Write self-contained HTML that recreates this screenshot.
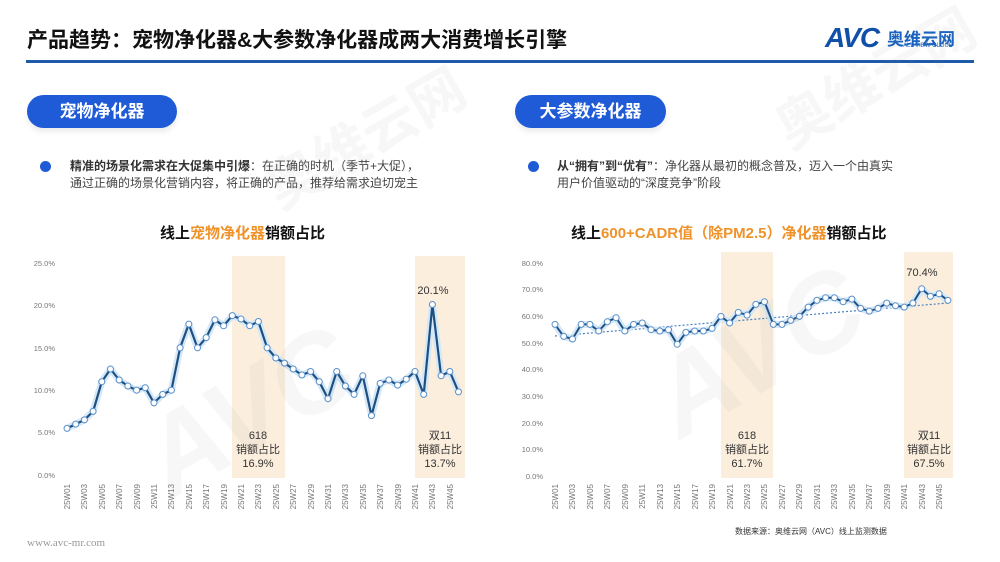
<!DOCTYPE html>
<html><head><meta charset="utf-8"><style>
body{margin:0;width:1000px;height:562px;background:#fff;overflow:hidden;font-family:"Liberation Sans","Noto Sans CJK SC",sans-serif;position:relative}
.abs{position:absolute}
.pill{position:absolute;height:33px;border-radius:17px;background:#1f5bd6;color:#fff;font-size:17px;font-weight:bold;line-height:33px;text-align:center;box-shadow:0 4px 6px rgba(0,0,0,0.08)}
.bul{position:absolute;font-size:12px;color:#444;line-height:17px}
.dot{position:absolute;width:11px;height:11px;border-radius:50%;background:#1f5bd6}
</style></head><body>
<div class="abs" style="left:27px;top:24px;font-size:21px;font-weight:bold;color:#111">产品趋势：宠物净化器&amp;大参数净化器成两大消费增长引擎</div>
<div class="abs" style="left:26px;top:60px;width:948px;height:3px;background:#1d5ba8"></div>
<div class="abs" style="left:825px;top:22px;font-size:28px;font-weight:900;font-style:italic;color:#1050a8;letter-spacing:-1px">AVC</div>
<div class="abs" style="left:887px;top:25px;font-size:17px;font-weight:bold;color:#1a62c0">奥维云网</div>
<div class="abs" style="left:903px;top:43px;font-size:6px;color:#1a62c0">ALL VIEW CLOUD</div>

<div class="pill" style="left:27px;top:95px;width:150px">宠物净化器</div>
<div class="pill" style="left:515px;top:95px;width:151px">大参数净化器</div>
<div class="dot" style="left:40px;top:161px"></div>
<div class="bul" style="left:70px;top:158px"><b style="color:#333">精准的场景化需求在大促集中引爆</b>：在正确的时机（季节+大促），<br>通过正确的场景化营销内容，将正确的产品，推荐给需求迫切宠主</div>
<div class="dot" style="left:528px;top:161px"></div>
<div class="bul" style="left:557px;top:158px"><b style="color:#333">从“拥有”到“优有”</b>：净化器从最初的概念普及，迈入一个由真实<br>用户价值驱动的“深度竞争”阶段</div>
<div class="abs" style="left:160px;top:222px;font-size:15px;font-weight:bold;color:#111">线上<span style="color:#f0922a">宠物净化器</span>销额占比</div>
<div class="abs" style="left:571px;top:222px;font-size:15px;font-weight:bold;color:#111">线上<span style="color:#f0922a">600+CADR值（除PM2.5）净化器</span>销额占比</div>

<svg class="abs" style="left:0;top:0" width="1000" height="562">
<defs><marker id="m" markerWidth="8" markerHeight="8" refX="4" refY="4" markerUnits="userSpaceOnUse"><circle cx="4" cy="4" r="3" fill="#fff" stroke="#5a8fc8" stroke-width="1"/></marker></defs>
<g fill="#fbeedd"><rect x="232" y="256" width="53" height="222"/><rect x="415" y="256" width="50" height="222"/><rect x="721" y="252" width="52" height="226"/><rect x="904" y="252" width="49" height="226"/></g>
<g font-size="7.5" fill="#777" text-anchor="end">
<text x="55" y="266">25.0%</text><text x="55" y="308">20.0%</text><text x="55" y="351">15.0%</text><text x="55" y="393">10.0%</text><text x="55" y="435">5.0%</text><text x="55" y="478">0.0%</text>
<text x="543" y="266">80.0%</text><text x="543" y="292">70.0%</text><text x="543" y="319">60.0%</text><text x="543" y="346">50.0%</text><text x="543" y="372">40.0%</text><text x="543" y="399">30.0%</text><text x="543" y="426">20.0%</text><text x="543" y="452">10.0%</text><text x="543" y="479">0.0%</text>
</g>
<g font-size="8" fill="#777" text-anchor="end">
<g transform="translate(70,484) rotate(-90)"><text>25W01</text></g><g transform="translate(87,484) rotate(-90)"><text>25W03</text></g><g transform="translate(105,484) rotate(-90)"><text>25W05</text></g><g transform="translate(122,484) rotate(-90)"><text>25W07</text></g><g transform="translate(140,484) rotate(-90)"><text>25W09</text></g><g transform="translate(157,484) rotate(-90)"><text>25W11</text></g><g transform="translate(174,484) rotate(-90)"><text>25W13</text></g><g transform="translate(192,484) rotate(-90)"><text>25W15</text></g><g transform="translate(209,484) rotate(-90)"><text>25W17</text></g><g transform="translate(227,484) rotate(-90)"><text>25W19</text></g><g transform="translate(244,484) rotate(-90)"><text>25W21</text></g><g transform="translate(261,484) rotate(-90)"><text>25W23</text></g><g transform="translate(279,484) rotate(-90)"><text>25W25</text></g><g transform="translate(296,484) rotate(-90)"><text>25W27</text></g><g transform="translate(314,484) rotate(-90)"><text>25W29</text></g><g transform="translate(331,484) rotate(-90)"><text>25W31</text></g><g transform="translate(348,484) rotate(-90)"><text>25W33</text></g><g transform="translate(366,484) rotate(-90)"><text>25W35</text></g><g transform="translate(383,484) rotate(-90)"><text>25W37</text></g><g transform="translate(401,484) rotate(-90)"><text>25W39</text></g><g transform="translate(418,484) rotate(-90)"><text>25W41</text></g><g transform="translate(435,484) rotate(-90)"><text>25W43</text></g><g transform="translate(453,484) rotate(-90)"><text>25W45</text></g>
<g transform="translate(558,484) rotate(-90)"><text>25W01</text></g><g transform="translate(575,484) rotate(-90)"><text>25W03</text></g><g transform="translate(593,484) rotate(-90)"><text>25W05</text></g><g transform="translate(610,484) rotate(-90)"><text>25W07</text></g><g transform="translate(628,484) rotate(-90)"><text>25W09</text></g><g transform="translate(645,484) rotate(-90)"><text>25W11</text></g><g transform="translate(663,484) rotate(-90)"><text>25W13</text></g><g transform="translate(680,484) rotate(-90)"><text>25W15</text></g><g transform="translate(698,484) rotate(-90)"><text>25W17</text></g><g transform="translate(715,484) rotate(-90)"><text>25W19</text></g><g transform="translate(733,484) rotate(-90)"><text>25W21</text></g><g transform="translate(750,484) rotate(-90)"><text>25W23</text></g><g transform="translate(767,484) rotate(-90)"><text>25W25</text></g><g transform="translate(785,484) rotate(-90)"><text>25W27</text></g><g transform="translate(802,484) rotate(-90)"><text>25W29</text></g><g transform="translate(820,484) rotate(-90)"><text>25W31</text></g><g transform="translate(837,484) rotate(-90)"><text>25W33</text></g><g transform="translate(855,484) rotate(-90)"><text>25W35</text></g><g transform="translate(872,484) rotate(-90)"><text>25W37</text></g><g transform="translate(890,484) rotate(-90)"><text>25W39</text></g><g transform="translate(907,484) rotate(-90)"><text>25W41</text></g><g transform="translate(925,484) rotate(-90)"><text>25W43</text></g><g transform="translate(942,484) rotate(-90)"><text>25W45</text></g>
</g>
<line x1="555" y1="336" x2="948" y2="303" stroke="#4a7fc0" stroke-width="1.2" stroke-dasharray="2,2"/>
<g fill="none" stroke-linejoin="round">
<polyline stroke="#d4e8f8" stroke-width="7" points="67,428.4 75.7,424.1 84.4,419.9 93.1,411.4 101.8,381.7 110.5,369 119.2,380 127.9,386 136.6,390.2 145.3,387.7 154,402.9 162.7,394.4 171.4,390.2 180.1,347.8 188.8,324.1 197.5,347.8 206.2,337.6 214.9,319.8 223.6,325.8 232.3,315.6 241,319 249.7,325.8 258.4,321.5 267.1,347.8 275.8,358 284.5,363.1 293.2,369 301.9,375 310.6,371.5 319.3,381.7 328,398.7 336.7,371.5 345.4,386 354.1,394.4 362.8,375.8 371.5,415.6 380.2,383.4 388.9,380 397.6,385.1 406.3,379.2 415,371.5 423.7,394.4 432.4,304.5 441.1,375.8 449.8,371.5 458.5,391.9"/>
<polyline stroke="#1f4f80" stroke-width="2.2" marker-start="url(#m)" marker-mid="url(#m)" marker-end="url(#m)" points="67,428.4 75.7,424.1 84.4,419.9 93.1,411.4 101.8,381.7 110.5,369 119.2,380 127.9,386 136.6,390.2 145.3,387.7 154,402.9 162.7,394.4 171.4,390.2 180.1,347.8 188.8,324.1 197.5,347.8 206.2,337.6 214.9,319.8 223.6,325.8 232.3,315.6 241,319 249.7,325.8 258.4,321.5 267.1,347.8 275.8,358 284.5,363.1 293.2,369 301.9,375 310.6,371.5 319.3,381.7 328,398.7 336.7,371.5 345.4,386 354.1,394.4 362.8,375.8 371.5,415.6 380.2,383.4 388.9,380 397.6,385.1 406.3,379.2 415,371.5 423.7,394.4 432.4,304.5 441.1,375.8 449.8,371.5 458.5,391.9"/>
<polyline stroke="#d4e8f8" stroke-width="7" points="555,324.4 563.7,336.4 572.5,339 581.2,324.4 589.9,324.4 598.7,331 607.4,321.7 616.1,317.7 624.8,331 633.6,324.4 642.3,323 651,329.7 659.8,331 668.5,329.7 677.2,344.3 685.9,332.4 694.7,331 703.4,331 712.1,328.4 720.9,316.4 729.6,323 738.3,312.4 747.1,315.1 755.8,304.4 764.5,301.8 773.3,324.4 782,324.4 790.7,320.4 799.4,316.4 808.2,307.1 816.9,300.4 825.6,297.8 834.4,297.8 843.1,301.8 851.8,299.1 860.6,308.4 869.3,311.1 878,308.4 886.7,303.1 895.5,305.8 904.2,307.1 912.9,303.1 921.7,288.7 930.4,296.4 939.1,293.8 947.9,300.4"/>
<polyline stroke="#1f4f80" stroke-width="2" marker-start="url(#m)" marker-mid="url(#m)" marker-end="url(#m)" points="555,324.4 563.7,336.4 572.5,339 581.2,324.4 589.9,324.4 598.7,331 607.4,321.7 616.1,317.7 624.8,331 633.6,324.4 642.3,323 651,329.7 659.8,331 668.5,329.7 677.2,344.3 685.9,332.4 694.7,331 703.4,331 712.1,328.4 720.9,316.4 729.6,323 738.3,312.4 747.1,315.1 755.8,304.4 764.5,301.8 773.3,324.4 782,324.4 790.7,320.4 799.4,316.4 808.2,307.1 816.9,300.4 825.6,297.8 834.4,297.8 843.1,301.8 851.8,299.1 860.6,308.4 869.3,311.1 878,308.4 886.7,303.1 895.5,305.8 904.2,307.1 912.9,303.1 921.7,288.7 930.4,296.4 939.1,293.8 947.9,300.4"/>
</g>
<g font-size="11" fill="#333" text-anchor="middle">
<text x="433" y="294">20.1%</text><text x="922" y="276">70.4%</text>
<text x="258" y="439">618</text><text x="258" y="453">销额占比</text><text x="258" y="467">16.9%</text>
<text x="440" y="439">双11</text><text x="440" y="453">销额占比</text><text x="440" y="467">13.7%</text>
<text x="747" y="439">618</text><text x="747" y="453">销额占比</text><text x="747" y="467">61.7%</text>
<text x="929" y="439">双11</text><text x="929" y="453">销额占比</text><text x="929" y="467">67.5%</text>
</g>
<g fill="#888" opacity="0.07" font-weight="bold">
<text transform="translate(170,500) rotate(-30)" font-size="110" font-style="italic">AVC</text>
<text transform="translate(280,210) rotate(-30)" font-size="55">奥维云网</text>
<text transform="translate(680,440) rotate(-30)" font-size="110" font-style="italic">AVC</text>
<text transform="translate(790,150) rotate(-30)" font-size="55">奥维云网</text>
</g>
<text x="735" y="534" font-size="8" fill="#333">数据来源：奥维云网（AVC）线上监测数据</text>
<text x="27" y="546" font-size="11" fill="#999" font-family="Liberation Serif,serif">www.avc-mr.com</text>
</svg>
</body></html>
